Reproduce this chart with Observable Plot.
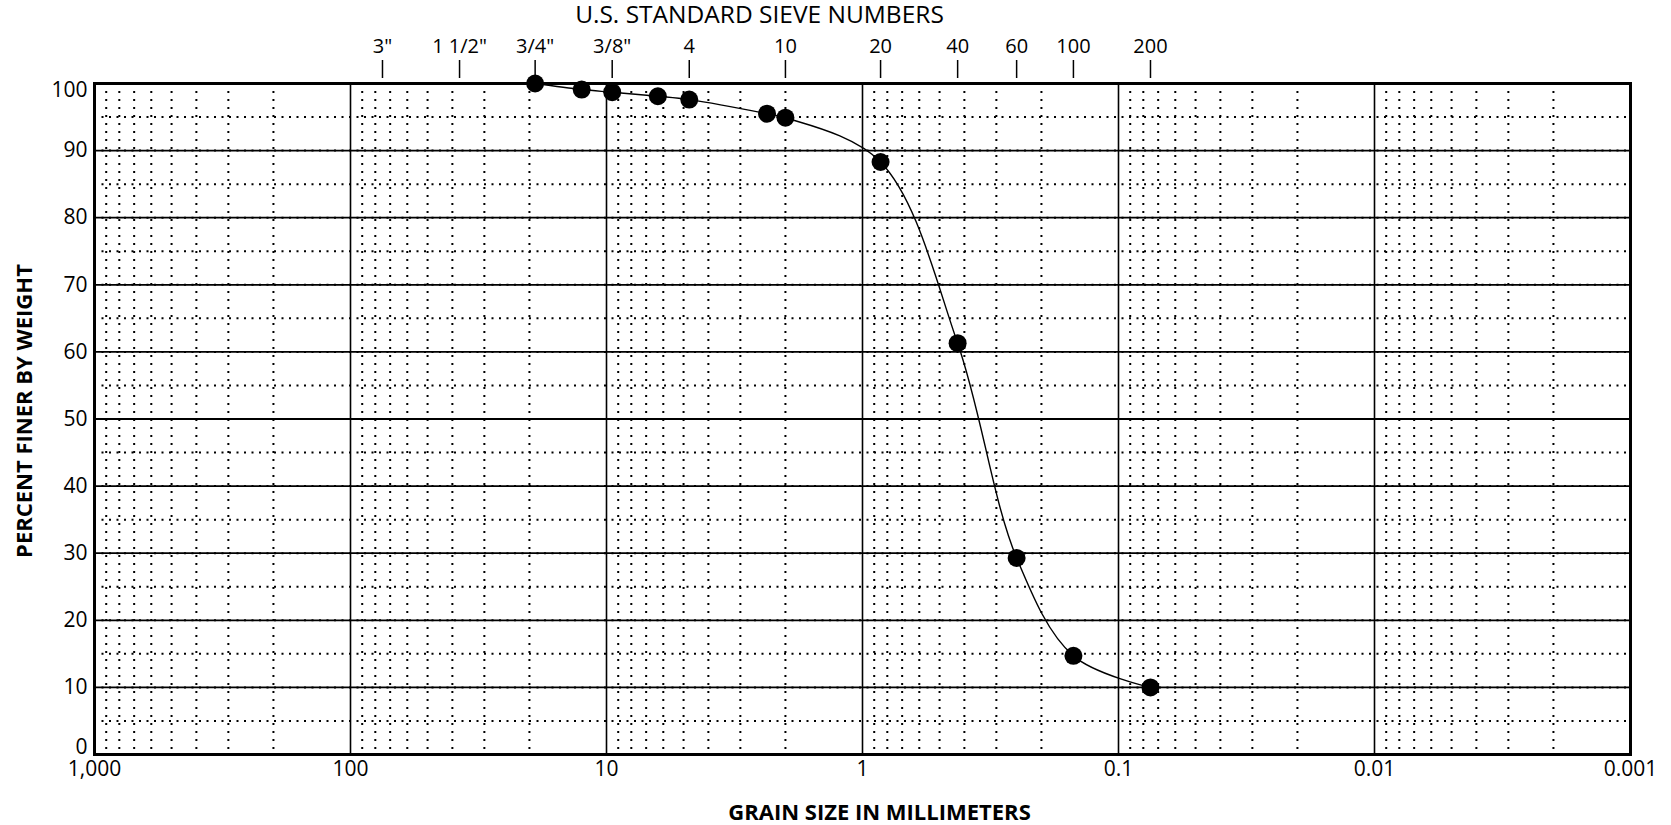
<!DOCTYPE html>
<html>
<head>
<meta charset="utf-8">
<script src="https://cdn.jsdelivr.net/npm/d3@7"></script>
<script src="https://cdn.jsdelivr.net/npm/@observablehq/plot@0.6"></script>
<style>
  html, body { margin: 0; padding: 0; background: #fff; }
</style>
</head>
<body>
<div id="chart"></div>
<script>
// Measured gradation (grain size in mm, percent finer by weight)
const grainSize = [19, 12.5, 9.5, 6.3, 4.75, 2.36, 2.0, 0.85, 0.425, 0.25, 0.15, 0.075];
const percentFiner = [100, 99.1, 98.7, 98.1, 97.6, 95.5, 94.9, 88.3, 61.3, 29.3, 14.7, 10.0];

// U.S. standard sieve openings (mm) and labels
const sieveSizes = [75, 37.5, 19, 9.5, 4.75, 2.0, 0.85, 0.425, 0.25, 0.15, 0.075];
const sieveLabels = ['3"', '1 1/2"', '3/4"', '3/8"', '4', '10', '20', '40', '60', '100', '200'];

// Bottom axis ticks
const xTicks = [1000, 100, 10, 1, 0.1, 0.01, 0.001];
const xTickLabels = ["1,000", "100", "10", "1", "0.1", "0.01", "0.001"];

// Left axis ticks (inner ones on the gridlines, end ones nudged inside)
const yInnerTicks = [10, 20, 30, 40, 50, 60, 70, 80, 90];
const yBottomTick = [0];
const yTopTick = [100];
const yHalfTicks = [5, 15, 25, 35, 45, 55, 65, 75, 85, 95];

// Grid helpers
const decades = [100, 10, 1, 0.1, 0.01];
const decadeBases = [100, 10, 1, 0.1, 0.01, 0.001];
const multipliers = [2, 3, 4, 5, 6, 7, 8, 9];
const minorX = decadeBases.flatMap(b => multipliers.map(m => +(b * m).toPrecision(6)));

const data = grainSize.map((g, i) => ({size: g, pct: percentFiner[i]}));

const font = "'Open Sans', 'Noto Sans', sans-serif";
const txt = {fill: "#000", lineAnchor: "middle"};

const chart = Plot.plot({
  width: 1671,
  height: 825,
  marginLeft: 94,
  marginRight: 41,
  marginTop: 83,
  marginBottom: 71,
  style: {fontFamily: font, fontSize: "21px", color: "#000", background: "#fff", overflow: "visible"},
  x: {type: "log", domain: [1000, 0.001], axis: null},
  y: {domain: [0, 100], axis: null},
  marks: [
    // dotted minor grid
    Plot.ruleX(minorX, {stroke: "#000", strokeWidth: 2, strokeDasharray: "2,6"}),
    Plot.ruleY(yHalfTicks.concat(yInnerTicks), {stroke: "#000", strokeWidth: 2, strokeDasharray: "2,5.5"}),
    // solid major grid
    Plot.ruleX(decades, {stroke: "#000", strokeWidth: 1.6}),
    Plot.ruleY(yInnerTicks, {stroke: "#000", strokeWidth: 1.8}),
    Plot.frame({stroke: "#000", strokeWidth: 3}),
    // left axis labels
    Plot.text(yInnerTicks, {...txt, y: d => d, text: d => String(d), frameAnchor: "left", textAnchor: "end", dx: -7, fontSize: 21}),
    Plot.text(yBottomTick, {...txt, y: d => d, text: d => String(d), frameAnchor: "left", textAnchor: "end", dx: -7, dy: -7, fontSize: 21}),
    Plot.text(yTopTick, {...txt, y: d => d, text: d => String(d), frameAnchor: "left", textAnchor: "end", dx: -7, dy: 7, fontSize: 21}),
    // bottom axis labels
    Plot.text(xTicks, {...txt, x: d => d, text: (d, i) => xTickLabels[i], frameAnchor: "bottom", dy: 15, fontSize: 21}),
    // top sieve ticks + labels
    Plot.axisX({anchor: "top", ticks: sieveSizes, tickSize: 18, dy: -6, label: null, strokeWidth: 1.5, tickFormat: () => ""}),
    Plot.text(sieveSizes, {...txt, x: d => d, text: (d, i) => sieveLabels[i], frameAnchor: "top", dy: -37, fontSize: 20}),
    // gradation curve
    Plot.line(data, {x: "size", y: "pct", curve: "catmull-rom", stroke: "#000", strokeWidth: 1.4}),
    Plot.dot(data, {x: "size", y: "pct", r: 9, fill: "#000", stroke: "none"}),
    // titles
    Plot.text(["U.S. STANDARD SIEVE NUMBERS"], {...txt, frameAnchor: "top", dx: -103, dy: -68, fontSize: 24.5}),
    Plot.text(["GRAIN SIZE IN MILLIMETERS"], {...txt, frameAnchor: "bottom", dx: 17, dy: 58, fontSize: 22, fontWeight: "bold"}),
    Plot.text(["PERCENT FINER BY WEIGHT"], {...txt, frameAnchor: "left", textAnchor: "middle", dx: -70, dy: -8, rotate: -90, fontSize: 22, fontWeight: "bold"})
  ]
});

document.getElementById("chart").appendChild(chart);
</script>
</body>
</html>
